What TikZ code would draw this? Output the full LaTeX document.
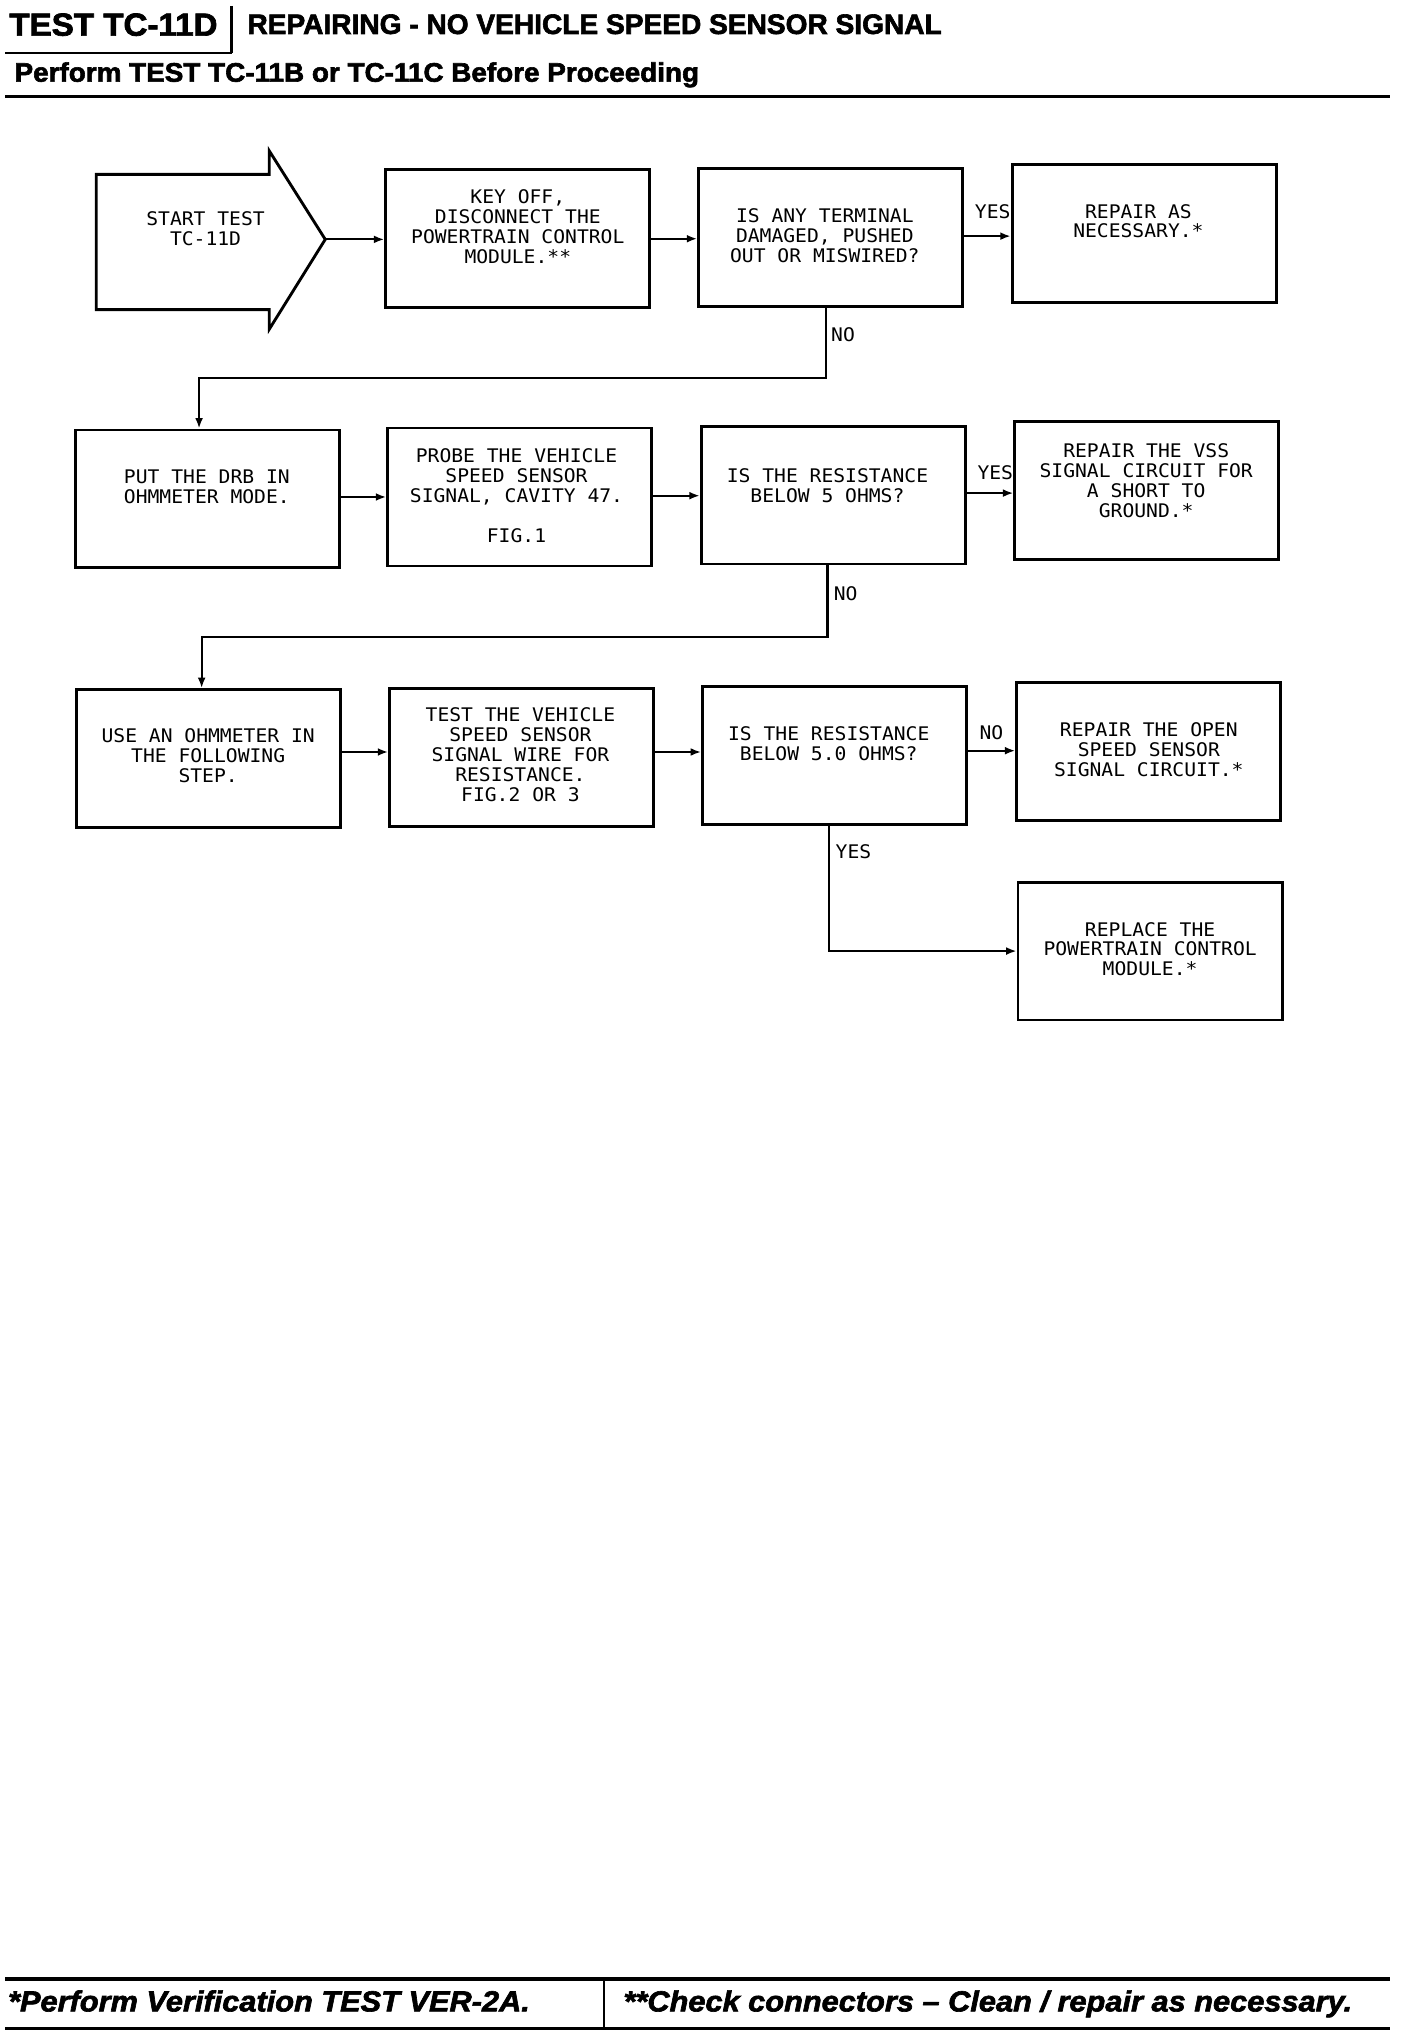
\documentclass[tikz,border=0pt]{standalone}
\usepackage{fontspec}
\usetikzlibrary{arrows.meta,calc}
\newfontfamily\hdrA[FakeStretch=1.04,FakeBold=2.2]{Liberation Sans Bold}
\newfontfamily\hdrB[FakeStretch=1.0,FakeBold=2.2]{Liberation Sans Bold}
\newfontfamily\hdrF[FakeStretch=1.06,FakeBold=2.2]{Liberation Sans Bold Italic}
\newfontfamily\plotfont[FakeStretch=1.05]{DejaVu Sans Mono}
\begin{document}
\begin{tikzpicture}[x=1pt,y=-1pt,
  box/.style={draw, line width=2.2pt, minimum width=203pt, minimum height=106pt, inner sep=0pt},
  txt/.style={font=\plotfont\fontsize{14.4pt}{15.3pt}\selectfont, align=center, inner sep=0pt},
  lbl/.style={font=\plotfont\fontsize{14.4pt}{15.3pt}\selectfont, inner sep=0pt},
  conn/.style={line width=1.6pt, -{Latex[length=8pt,width=6pt]}},
  hdr/.style={inner sep=0pt, anchor=base west}]

\useasboundingbox (0,0) rectangle (1082,1568);

% header
\node[hdr, font=\hdrA\fontsize{24.5pt}{24.5pt}\selectfont] (title) at (7,27.4) {TEST TC-11D};
\draw[line width=1.8pt] (178,4.6) -- (178,41);
\draw[line width=1.4pt] (4,41) -- (178,41);
\node[hdr, font=\hdrB\fontsize{21.6pt}{21.6pt}\selectfont] (heading) at (190,26.1) {REPAIRING - NO VEHICLE SPEED SENSOR SIGNAL};
\node[hdr, font=\hdrA\fontsize{20.6pt}{20.6pt}\selectfont] (pre) at (11,62.8) {Perform TEST TC-11B or TC-11C Before Proceeding};
\draw[line width=2.6pt] (4,74.3) -- (1068,74.3);

% start arrow
\draw[line width=2.2pt, line join=miter] (74,134) -- (207,134) -- (207,116) -- (250,184) -- (207,253) -- (207,238) -- (74,238) -- cycle;
\coordinate (tip) at (250,184);
\node[txt] (sttxt) at (158,175.5) {START TEST\\TC-11D};

% row 1
\node[box] (a) at (398,183.5) {};
\node[txt] (atxt) at (398,174.5) {KEY OFF,\\DISCONNECT THE\\POWERTRAIN CONTROL\\MODULE.**};
\node[box] (b) at (638.5,182.5) {};
\node[txt] (btxt) at (634,181) {IS ANY TERMINAL\\DAMAGED, PUSHED\\OUT OR MISWIRED?};
\node[box] (c) at (879.5,179.5) {};
\node[txt] (ctxt) at (875,170) {REPAIR AS\\NECESSARY.*};

% row 2
\node[box] (d) at (159.5,383.5) {};
\node[txt] (dtxt) at (159,374.5) {PUT THE DRB IN\\OHMMETER MODE.};
\node[box] (e) at (399.5,382) {};
\node[txt] (etxt) at (397,381) {PROBE THE VEHICLE\\SPEED SENSOR\\SIGNAL, CAVITY 47.\\[15.3pt]FIG.1};
\node[box] (f) at (640.5,380.5) {};
\node[txt] (ftxt) at (636,373) {IS THE RESISTANCE\\BELOW 5 OHMS?};
\node[box] (g) at (881.5,377) {};
\node[txt] (gtxt) at (881,369.5) {REPAIR THE VSS\\SIGNAL CIRCUIT FOR\\A SHORT TO\\GROUND.*};

% row 3
\node[box] (h) at (160.5,583) {};
\node[txt] (htxt) at (160,581) {USE AN OHMMETER IN\\THE FOLLOWING\\STEP.};
\node[box] (i) at (401,582) {};
\node[txt] (itxt) at (400,580) {TEST THE VEHICLE\\SPEED SENSOR\\SIGNAL WIRE FOR\\RESISTANCE.\\FIG.2 OR 3};
\node[box] (j) at (641.5,580.5) {};
\node[txt] (jtxt) at (637,571.5) {IS THE RESISTANCE\\BELOW 5.0 OHMS?};
\node[box] (k) at (883,577.5) {};
\node[txt] (ktxt) at (883,576.5) {REPAIR THE OPEN\\SPEED SENSOR\\SIGNAL CIRCUIT.*};
\node[box] (l) at (884,731) {};
\node[txt] (ltxt) at (884,729.5) {REPLACE THE\\POWERTRAIN CONTROL\\MODULE.*};

% connectors row 1
\draw[conn] (tip) -- (tip -| a.west);
\draw[conn] (a.east) -- (a.east -| b.west);
\draw[conn] ([yshift=1pt]b.east) -- ([yshift=1pt]b.east -| c.west);
\node[lbl] (yes1) at (763,163) {YES};
\draw[conn] ([xshift=-3.5pt]b.south) -- ++(0,54) -| ([xshift=-6.5pt]d.north);
\node[lbl] (no1) at (648,257) {NO};

% connectors row 2
\draw[conn] ([yshift=1.5pt]d.east) -- ([yshift=1.5pt]d.east -| e.west);
\draw[conn] ([yshift=1pt]e.east) -- ([yshift=1pt]e.east -| f.west);
\draw[conn] ([yshift=1.5pt]f.east) -- ([yshift=1.5pt]f.east -| g.west);
\node[lbl] (yes2) at (765,363) {YES};
\draw[conn] ([xshift=-4.5pt]f.south) -- ++(0,55) -| ([xshift=-5.5pt]h.north);
\node[lbl] (no2) at (650,456) {NO};

% connectors row 3
\draw[conn] ([yshift=5pt]h.east) -- ([yshift=5pt]h.east -| i.west);
\draw[conn] ([yshift=4pt]i.east) -- ([yshift=4pt]i.east -| j.west);
\draw[conn] ([yshift=3.5pt]j.east) -- ([yshift=3.5pt]j.east -| k.west);
\node[lbl] (no3) at (762,563) {NO};
\draw[conn] ([xshift=-4.5pt]j.south) |- (l.west);
\node[lbl] (yes3) at (656,655) {YES};

% footer
\draw[line width=2.6pt] (4,1521) -- (1068,1521);
\draw[line width=2.6pt] (4,1559) -- (1068,1559);
\draw[line width=1.8pt] (464,1521) -- (464,1559);
\node[hdr, font=\hdrF\fontsize{22.3pt}{22.3pt}\selectfont] (foot1) at (6,1546) {*Perform Verification TEST VER-2A.};
\node[hdr, font=\hdrF\fontsize{22.3pt}{22.3pt}\selectfont] (foot2) at (479,1546) {**Check connectors – Clean / repair as necessary.};
\end{tikzpicture}
\end{document}
